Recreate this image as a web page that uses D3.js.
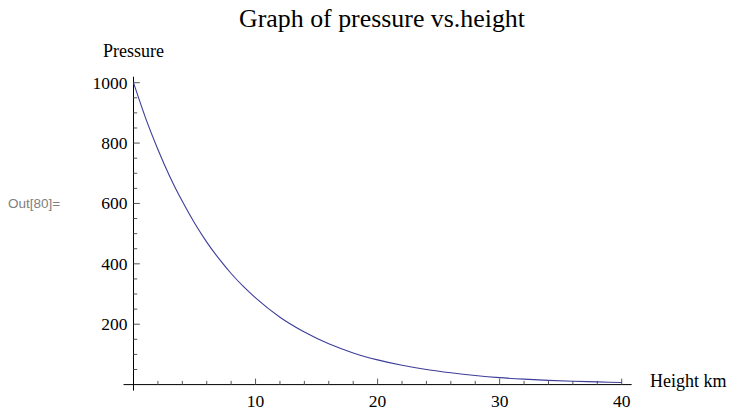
<!DOCTYPE html>
<html>
<head>
<meta charset="utf-8">
<script src="https://cdnjs.cloudflare.com/ajax/libs/d3/7.8.5/d3.min.js"></script>
<style>
  body { margin: 0; background: #fff; }
  svg { display: block; }
</style>
</head>
<body>
<div id="chart"></div>
<script>
// values
var heights   = [0, 1, 2, 3, 4, 5, 6, 7, 8, 9, 10, 12, 14, 16, 18, 20, 22, 24, 26, 28, 30, 32, 34, 36, 38, 40];
var pressures = [1000, 882, 779, 687, 607, 535, 472, 417, 368, 325, 287, 223, 174, 135, 105, 82, 64, 50, 39, 30, 23, 18, 14, 11, 9, 7];
var xTicks = [10, 20, 30, 40];
var yTicks = [200, 400, 600, 800, 1000];

var W = 731, H = 411;
var margin = {top: 82.7, right: 109.3, bottom: 26.4, left: 133.5};

var svg = d3.select("#chart").append("svg")
    .attr("width", W)
    .attr("height", H);

var x = d3.scaleLinear()
    .domain([0, 40])
    .range([margin.left, W - margin.right]);

var y = d3.scaleLinear()
    .domain([0, 1000])
    .range([H - margin.bottom, margin.top]);

var data = heights.map(function(h, i) { return {h: h, p: pressures[i]}; });

// x axis
var gx = svg.append("g")
    .attr("transform", "translate(0," + y(0) + ")");
gx.append("line")
    .attr("x1", x(0) - 10).attr("x2", x(40) + 10)
    .attr("stroke", "#000");
gx.selectAll(".minor")
    .data(d3.range(2, 41, 2).filter(function(d) { return d % 10 != 0; }))
    .enter().append("line")
    .attr("x1", d => x(d)).attr("x2", d => x(d))
    .attr("y1", 0).attr("y2", -3.7)
    .attr("stroke", "#555");
gx.selectAll(".major")
    .data(xTicks)
    .enter().append("line")
    .attr("x1", d => x(d)).attr("x2", d => x(d))
    .attr("y1", 0).attr("y2", -6)
    .attr("stroke", "#555");
gx.selectAll("text")
    .data(xTicks)
    .enter().append("text")
    .attr("x", d => x(d))
    .attr("y", 22.7)
    .attr("text-anchor", "middle")
    .style("font", "17.5px 'Liberation Serif'")
    .text(d => d);

// y axis
var gy = svg.append("g")
    .attr("transform", "translate(" + x(0) + ",0)");
gy.append("line")
    .attr("y1", y(1000) - 6).attr("y2", y(0) + 6)
    .attr("stroke", "#000");
gy.selectAll(".minor")
    .data(d3.range(50, 1001, 50).filter(function(d) { return d % 200 != 0; }))
    .enter().append("line")
    .attr("y1", d => y(d)).attr("y2", d => y(d))
    .attr("x1", 0).attr("x2", 3.7)
    .attr("stroke", "#555");
gy.selectAll(".major")
    .data(yTicks)
    .enter().append("line")
    .attr("y1", d => y(d)).attr("y2", d => y(d))
    .attr("x1", 0).attr("x2", 6.3)
    .attr("stroke", "#555");
gy.selectAll("text")
    .data(yTicks)
    .enter().append("text")
    .attr("x", -6)
    .attr("y", d => y(d))
    .attr("dy", "0.34em")
    .attr("text-anchor", "end")
    .style("font", "17.5px 'Liberation Serif'")
    .text(d => d);

// curve
var line = d3.line()
    .x(d => x(d.h))
    .y(d => y(d.p))
    .curve(d3.curveMonotoneX);

svg.append("path")
    .datum(data)
    .attr("d", line)
    .attr("fill", "none")
    .attr("stroke", "#3d3d99")
    .attr("stroke-width", 1.1);

// labels
svg.append("text")
    .attr("x", 239)
    .attr("y", 27)
    .attr("textLength", 286)
    .attr("lengthAdjust", "spacingAndGlyphs")
    .style("font", "25.5px 'Liberation Serif'")
    .text("Graph of pressure vs.height");

svg.append("text")
    .attr("x", 103)
    .attr("y", 57)
    .style("font", "18px 'Liberation Serif'")
    .text("Pressure");

svg.append("text")
    .attr("x", 650)
    .attr("y", 387)
    .style("font", "18px 'Liberation Serif'")
    .text("Height km");

svg.append("text")
    .attr("x", 8)
    .attr("y", 208)
    .style("font", "13.5px 'Liberation Sans'")
    .style("fill", "#808080")
    .text("Out[80]=");
</script>
</body>
</html>
